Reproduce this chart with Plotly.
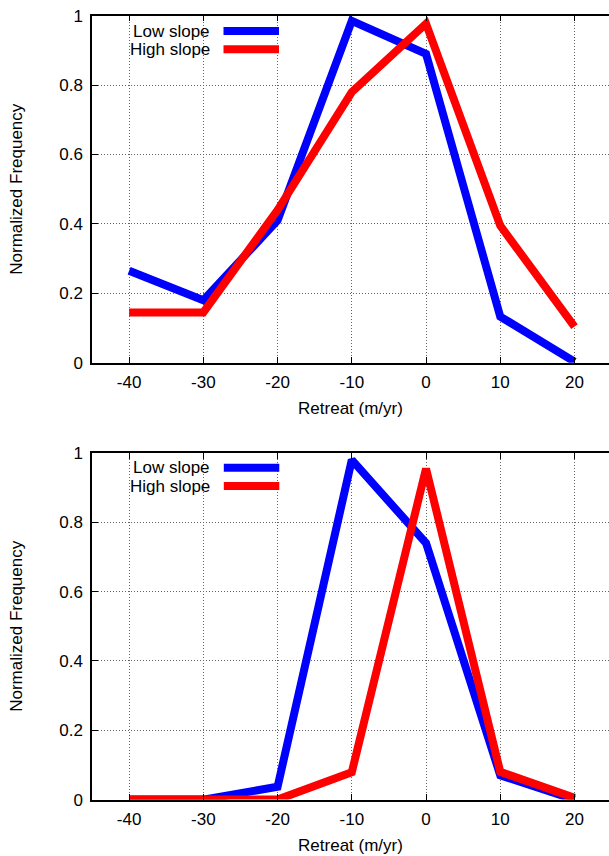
import plotly.graph_objects as go
from plotly.subplots import make_subplots

# Retreat-rate bins (m/yr)
retreat = [-40, -30, -20, -10, 0, 10, 20]

# Upper panel: normalized frequency by slope class
upper_low = [0.265, 0.18, 0.41, 0.985, 0.89, 0.133, 0.003]
upper_high = [0.145, 0.145, 0.44, 0.78, 0.977, 0.395, 0.104]

# Lower panel: normalized frequency by slope class
lower_low = [0.0, 0.0, 0.037, 0.98, 0.74, 0.07, 0.0]
lower_high = [0.0, 0.0, 0.0, 0.079, 0.955, 0.08, 0.005]

x_ticks = [-40, -30, -20, -10, 0, 10, 20]
x_tick_text = ["-40", "-30", "-20", "-10", "0", "10", "20"]
y_ticks = [0, 0.2, 0.4, 0.6, 0.8, 1]
y_tick_text = ["0", "0.2", "0.4", "0.6", "0.8", "1"]

W, H = 609, 856
FONT = "Liberation Sans, Arial, Helvetica, sans-serif"
BLUE = "#0000ff"
RED = "#ff0000"
LW = 8


def px_x(p):
    return p / W


def px_y(p):
    return 1 - p / H


fig = make_subplots(rows=2, cols=1)

panels = [(1, upper_low, upper_high), (2, lower_low, lower_high)]
for row, low, high in panels:
    fig.add_trace(go.Scatter(x=retreat, y=low, mode="lines", name="Low slope",
                             line=dict(color=BLUE, width=LW), showlegend=False),
                  row=row, col=1)
    fig.add_trace(go.Scatter(x=retreat, y=high, mode="lines", name="High slope",
                             line=dict(color=RED, width=LW), showlegend=False),
                  row=row, col=1)

x_dom = [px_x(92), 1.0]
y_doms = {1: [px_y(362.7), px_y(15.7)], 2: [px_y(799.6), px_y(453)]}

axis_common = dict(
    showline=True, linecolor="black", linewidth=1.5,
    ticks="inside", ticklen=6, tickcolor="black", tickwidth=1,
    showgrid=True, gridcolor="#666666", griddash="1px,2px", gridwidth=1,
    zeroline=False, automargin=False,
    tickfont=dict(family=FONT, size=17, color="black"),
)

for row in (1, 2):
    xa = "xaxis" if row == 1 else "xaxis2"
    ya = "yaxis" if row == 1 else "yaxis2"
    fig.layout[xa].update(
        domain=x_dom, range=[-45, 24.65], tickvals=x_ticks, ticktext=x_tick_text,
        mirror="ticks", ticklabelstandoff=3,
        title=dict(text="Retreat (m/yr)", standoff=11,
                   font=dict(family=FONT, size=17, color="black")),
        **axis_common,
    )
    fig.layout[ya].update(
        domain=y_doms[row], range=[0, 1], tickvals=y_ticks,
        ticktext=y_tick_text, ticklabelstandoff=4,
        title=dict(text="Normalized Frequency", standoff=32,
                   font=dict(family=FONT, size=17, color="black")),
        **axis_common,
    )

# Key: label text right-aligned, line sample to its right
keys = [
    (212, 31, 49.3),
    (212.3, 467.7, 486),
]
for text_right, y_low, y_high in keys:
    for label, yy, col in (("Low slope", y_low, BLUE), ("High slope", y_high, RED)):
        fig.add_annotation(x=px_x(text_right), y=px_y(yy), xref="paper", yref="paper",
                           text=label, showarrow=False, xanchor="right", yanchor="middle",
                           font=dict(family=FONT, size=17, color="black"))
        fig.add_shape(type="line", xref="paper", yref="paper",
                      x0=px_x(text_right + 11.5), x1=px_x(text_right + 67),
                      y0=px_y(yy), y1=px_y(yy),
                      line=dict(color=col, width=LW))

fig.update_layout(
    width=W, height=H,
    margin=dict(l=0, r=0, t=0, b=0, autoexpand=False),
    paper_bgcolor="white", plot_bgcolor="white",
    showlegend=False,
    font=dict(family=FONT, color="black"),
)

fig.write_html("out.html")
